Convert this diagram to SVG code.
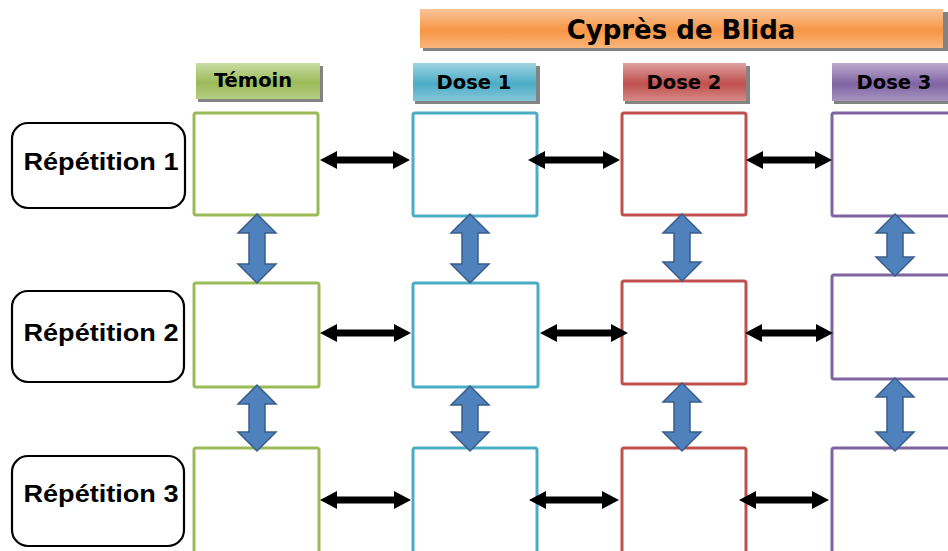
<svg xmlns="http://www.w3.org/2000/svg" width="948" height="551" viewBox="0 0 948 551">
<defs>
<linearGradient id="gOrange" x1="0" y1="0" x2="0" y2="1"><stop offset="0" stop-color="#fac498"/><stop offset="0.55" stop-color="#f79646"/><stop offset="1" stop-color="#f9b57a"/></linearGradient>
<linearGradient id="gGreen" x1="0" y1="0" x2="0" y2="1"><stop offset="0" stop-color="#c9dca4"/><stop offset="0.55" stop-color="#9bbb59"/><stop offset="1" stop-color="#b6ce84"/></linearGradient>
<linearGradient id="gBlue" x1="0" y1="0" x2="0" y2="1"><stop offset="0" stop-color="#9fd4e3"/><stop offset="0.55" stop-color="#4bacc6"/><stop offset="1" stop-color="#86c7d9"/></linearGradient>
<linearGradient id="gRed" x1="0" y1="0" x2="0" y2="1"><stop offset="0" stop-color="#dea1a0"/><stop offset="0.55" stop-color="#c0504d"/><stop offset="1" stop-color="#d68a88"/></linearGradient>
<linearGradient id="gPurple" x1="0" y1="0" x2="0" y2="1"><stop offset="0" stop-color="#bcaccf"/><stop offset="0.55" stop-color="#8064a2"/><stop offset="1" stop-color="#a795c0"/></linearGradient>
</defs>
<style>
.hdr{font-family:"DejaVu Sans",Verdana,sans-serif;font-weight:bold;fill:#000;text-anchor:middle}
.rep{font-family:"Liberation Sans",Arial,sans-serif;font-weight:bold;font-size:24px;fill:#000;text-anchor:middle}
.repbox{fill:#fff;stroke:#000;stroke-width:2.2}
.box{fill:#fff;stroke-width:3}
.t{stroke:#9bbb59}.d1{stroke:#4bacc6}.d2{stroke:#c0504d}.d3{stroke:#8064a2}
.shadow{fill:#5a5a5a;opacity:0.75}
.harrow{fill:#000}
.varrow{fill:#4f81bd;stroke:#385d8a;stroke-width:1.5}
</style>
<rect width="948" height="551" fill="#fff"/>

<g id="title">
<rect class="shadow" x="423" y="12" width="525" height="39" fill="#a0521c"/>
<rect x="420" y="9" width="523" height="39" fill="url(#gOrange)"/>
<text class="hdr" x="681" y="39" font-size="26">Cyprès de Blida</text>
</g>

<g id="hdr-temoin">
<rect class="shadow" x="198" y="66" width="125" height="36" fill="#4f6228"/>
<rect x="196" y="63" width="124" height="36" fill="url(#gGreen)"/>
<text class="hdr" x="253" y="87" font-size="19.5">Témoin</text>
</g>
<g id="hdr-dose1">
<rect class="shadow" x="415" y="66" width="125" height="38" fill="#215968"/>
<rect x="413" y="63" width="123" height="38" fill="url(#gBlue)"/>
<text class="hdr" x="474" y="89" font-size="19.5">Dose 1</text>
</g>
<g id="hdr-dose2">
<rect class="shadow" x="625" y="66" width="125" height="38" fill="#632523"/>
<rect x="623" y="63" width="123" height="38" fill="url(#gRed)"/>
<text class="hdr" x="684" y="89" font-size="19.5">Dose 2</text>
</g>
<g id="hdr-dose3">
<rect class="shadow" x="834" y="66" width="125" height="38" fill="#3f3151"/>
<rect x="832" y="63" width="124" height="38" fill="url(#gPurple)"/>
<text class="hdr" x="894" y="89" font-size="19.5">Dose 3</text>
</g>

<g id="rep1"><rect class="repbox" x="12" y="123" width="173" height="85" rx="16"/><text class="rep" x="101" y="170" textLength="155" lengthAdjust="spacingAndGlyphs">Répétition 1</text></g>
<g id="rep2"><rect class="repbox" x="12" y="291" width="172" height="91" rx="16"/><text class="rep" x="101" y="341" textLength="155" lengthAdjust="spacingAndGlyphs">Répétition 2</text></g>
<g id="rep3"><rect class="repbox" x="12" y="456" width="172" height="90" rx="16"/><text class="rep" x="101" y="502" textLength="155" lengthAdjust="spacingAndGlyphs">Répétition 3</text></g>

<g id="r1-temoin"><rect class="box t" x="194" y="113" width="124" height="102" rx="2"/></g>
<g id="r1-dose1"><rect class="box d1" x="413" y="113" width="124" height="103" rx="2"/></g>
<g id="r1-dose2"><rect class="box d2" x="622" y="113" width="124" height="102" rx="2"/></g>
<g id="r1-dose3"><rect class="box d3" x="832" y="113" width="130" height="103" rx="2"/></g>

<g id="r2-temoin"><rect class="box t" x="194" y="283" width="125" height="104" rx="2"/></g>
<g id="r2-dose1"><rect class="box d1" x="413" y="283" width="125" height="104" rx="2"/></g>
<g id="r2-dose2"><rect class="box d2" x="622" y="281" width="124" height="103" rx="2"/></g>
<g id="r2-dose3"><rect class="box d3" x="832" y="275" width="130" height="104" rx="2"/></g>

<g id="r3-temoin"><rect class="box t" x="194" y="448" width="125" height="110" rx="2"/></g>
<g id="r3-dose1"><rect class="box d1" x="413" y="448" width="124" height="110" rx="2"/></g>
<g id="r3-dose2"><rect class="box d2" x="622" y="448" width="124" height="110" rx="2"/></g>
<g id="r3-dose3"><rect class="box d3" x="832" y="448" width="130" height="110" rx="2"/></g>

<g id="connectors">
<path class="harrow" d="M320,160 L337,151 L337,156.5 L393,156.5 L393,151 L410,160 L393,169 L393,163.5 L337,163.5 L337,169 Z"/>
<path class="harrow" d="M528,160 L545,151 L545,156.5 L603,156.5 L603,151 L620,160 L603,169 L603,163.5 L545,163.5 L545,169 Z"/>
<path class="harrow" d="M746,160 L763,151 L763,156.5 L815,156.5 L815,151 L832,160 L815,169 L815,163.5 L763,163.5 L763,169 Z"/>
<path class="harrow" d="M320,333 L337,324 L337,329.5 L394,329.5 L394,324 L411,333 L394,342 L394,336.5 L337,336.5 L337,342 Z"/>
<path class="harrow" d="M540,333 L557,324 L557,329.5 L611,329.5 L611,324 L628,333 L611,342 L611,336.5 L557,336.5 L557,342 Z"/>
<path class="harrow" d="M745,333 L762,324 L762,329.5 L816,329.5 L816,324 L833,333 L816,342 L816,336.5 L762,336.5 L762,342 Z"/>
<path class="harrow" d="M320,500 L337,491 L337,496.5 L394,496.5 L394,491 L411,500 L394,509 L394,503.5 L337,503.5 L337,509 Z"/>
<path class="harrow" d="M529,500 L546,491 L546,496.5 L602,496.5 L602,491 L619,500 L602,509 L602,503.5 L546,503.5 L546,509 Z"/>
<path class="harrow" d="M739,500 L756,491 L756,496.5 L812,496.5 L812,491 L829,500 L812,509 L812,503.5 L756,503.5 L756,509 Z"/>

<path class="varrow" d="M257,214 L276,233 L265,233 L265,264 L276,264 L257,283 L238,264 L249,264 L249,233 L238,233 Z"/>
<path class="varrow" d="M470,214 L489,233 L478,233 L478,264 L489,264 L470,283 L451,264 L462,264 L462,233 L451,233 Z"/>
<path class="varrow" d="M682,214 L701,233 L690,233 L690,262 L701,262 L682,281 L663,262 L674,262 L674,233 L663,233 Z"/>
<path class="varrow" d="M895,214 L914,233 L903,233 L903,257 L914,257 L895,276 L876,257 L887,257 L887,233 L876,233 Z"/>

<path class="varrow" d="M257,385 L276,404 L265,404 L265,432 L276,432 L257,451 L238,432 L249,432 L249,404 L238,404 Z"/>
<path class="varrow" d="M470,386 L489,405 L478,405 L478,432 L489,432 L470,451 L451,432 L462,432 L462,405 L451,405 Z"/>
<path class="varrow" d="M682,383 L701,402 L690,402 L690,432 L701,432 L682,451 L663,432 L674,432 L674,402 L663,402 Z"/>
<path class="varrow" d="M895,378 L914,397 L903,397 L903,432 L914,432 L895,451 L876,432 L887,432 L887,397 L876,397 Z"/>
</g>
</svg>
